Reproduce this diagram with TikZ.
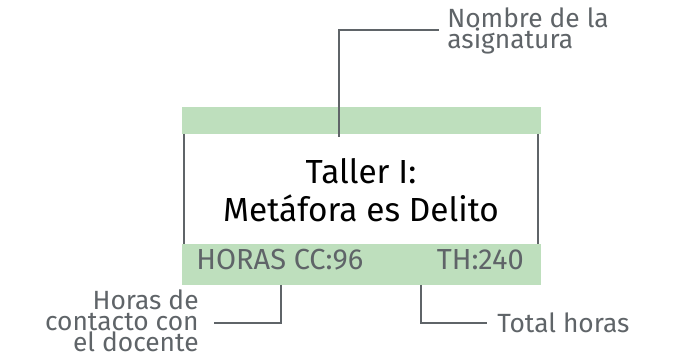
\documentclass[tikz,border=0pt]{standalone}
\usepackage{fontspec}
\setmainfont{Fira Sans}
\definecolor{verdebarra}{HTML}{BEDFBD}
\definecolor{grisoscuro}{HTML}{5F6468}
\begin{document}
\begin{tikzpicture}[x=0.02cm,y=-0.02cm,
	linea/.style={draw=grisoscuro,line width=1.7pt},
	nota/.style={text=grisoscuro,inner sep=0pt,font=\fontsize{15}{12}\selectfont},
	barra/.style={fill=verdebarra}]
	\useasboundingbox (0,0) rectangle (673,354);
	% barras de color
	\fill[barra] (182,107) rectangle (541,134);
	\fill[barra] (182,244) rectangle (541,285);
	\path (184,134) coordinate (IzqA) ++ (0,110) coordinate (IzqB)
	(538,134) coordinate (DerA) ++ (0,110) coordinate (DerB);
	\draw[linea] (IzqA) -- (IzqB);
	\draw[linea] (DerA) -- (DerB);
	% textos de la tarjeta
	\node (titulo) at (361,190) [align=center,font=\fontsize{19}{21.5}\selectfont] {Taller I:\\Metáfora es Delito};
	\node (horascc) [nota,anchor=base west,font=\fontsize{16.5}{14}\selectfont] at (196,270) {HORAS CC:96};
	\node (th) [nota,anchor=base east,font=\fontsize{16.5}{14}\selectfont] at (524,270) {TH:240};
	% notas
	\node (nombre) [nota,anchor=west,align=left] at (447,31) {Nombre de la\\asignatura};
	\node (contacto) [nota,anchor=east,align=right] at (199,321) {Horas de\\contacto con\\el docente};
	\node (total) [nota,anchor=west] at (497,323) {Total horas};
	\path (339,137) coordinate (nA) (439,30) coordinate (nB)
	(281,285) coordinate (cA) (214,323) coordinate (cB)
	(421,285) coordinate (tA) (487,323) coordinate (tB);
	\draw[linea] (nA) |- (nB);
	\draw[linea] (cA) |- (cB);
	\draw[linea] (tA) |- (tB);
\end{tikzpicture}
\end{document}
